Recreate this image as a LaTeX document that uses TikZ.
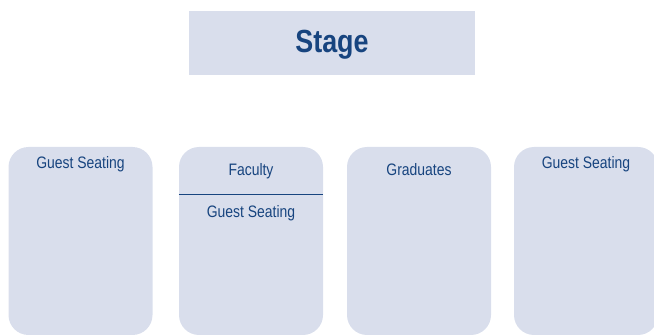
\documentclass[tikz,border=0pt]{standalone}
\usepackage{fontspec}
\setmainfont{Liberation Sans}[FakeStretch=0.84]
\usetikzlibrary{positioning}
\usetikzlibrary{calc}
\definecolor{seatfill}{HTML}{D9DEEC}
\definecolor{seatblue}{HTML}{17447F}
\tikzset{seat/.style={fill=seatfill, rounded corners=20pt, minimum width=144pt, minimum height=188pt, inner sep=0pt}}
\tikzset{stagebox/.style={fill=seatfill, minimum width=286pt, minimum height=64pt, inner sep=0pt}}
\tikzset{lab/.style={anchor=base, inner sep=0pt, text=seatblue, font=\fontsize{16.6}{18}\selectfont}}

\begin{document}
\begin{tikzpicture}[x=1pt, y=1pt]
\useasboundingbox (0,0) rectangle (654,335);

\node[stagebox] (stage) at (332, 292) {};
\node[lab, font=\bfseries\fontsize{32}{35}\selectfont] (stageT) at (332, 282) {Stage};

\node[seat] (g1) at (80.5, 94) {};
\node[seat] (fac) at (251, 94) {};
\node[seat] (grad) at (419, 94) {};
\node[seat] (g2) at (586, 94) {};

\node[lab] (g1T) at (80.5, 166) {Guest Seating};
\node[lab] (facT) at (251, 159) {Faculty};
\node[lab] (facG) at (251, 117) {Guest Seating};
\node[lab] (gradT) at (419, 159) {Graduates};
\node[lab] (g2T) at (586, 166) {Guest Seating};

% divider in the faculty block
\draw[seatblue, line width=1pt] (fac.west |- 0,140) -- (fac.east |- 0,140);

\end{tikzpicture}
\end{document}
